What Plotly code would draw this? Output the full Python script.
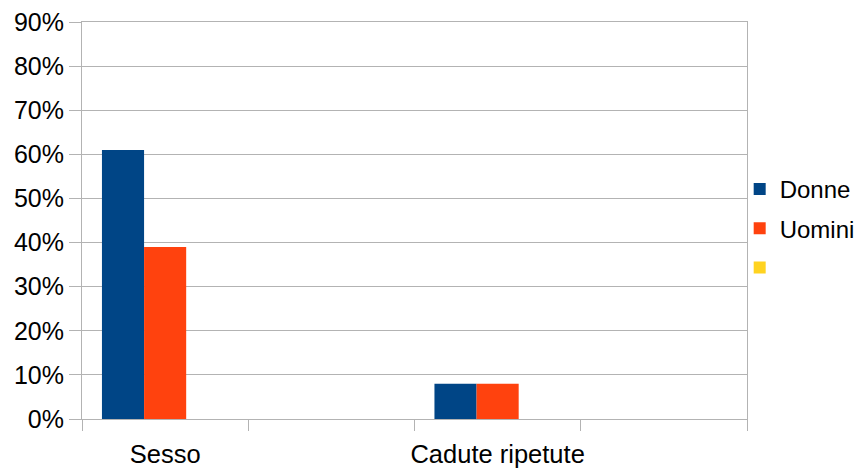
import plotly.graph_objects as go

# Category slots on the x axis (only two of them carry a label)
categories = ["Sesso", "slot2", "Cadute ripetute", "slot4"]
tick_labels = ["Sesso", "", "Cadute ripetute", ""]

# Shares per series (fractions)
donne = [0.61, None, 0.08, None]
uomini = [0.39, None, 0.08, None]
terza = [None, None, None, None]

series = [
    ("Donne", donne, "#004586"),
    ("Uomini", uomini, "#ff420e"),
    ("", terza, "#ffd320"),
]

grid = "#b3b3b3"
family = "Liberation Sans, Arial, sans-serif"
font = dict(family=family, size=24, color="#000000")

fig = go.Figure()
for i, (name, vals, color) in enumerate(series):
    fig.add_trace(go.Bar(
        x=categories, y=vals, name=name, marker=dict(color=color, line=dict(width=0)),
        legendgroup=f"g{i}", showlegend=True,
    ))

fig.update_layout(
    width=860, height=468,
    margin=dict(l=82, r=113, t=22, b=49, autoexpand=False),
    paper_bgcolor="white", plot_bgcolor="white",
    font=font,
    barmode="group", bargap=0.24, bargroupgap=0,
    legend=dict(
        x=0.989, xanchor="left", y=0.48, yanchor="middle",
        traceorder="grouped", tracegroupgap=5,
        font=font, bgcolor="rgba(0,0,0,0)",
    ),
    xaxis=dict(
        type="category", tickmode="array", tickvals=categories, ticktext=tick_labels,
        tickson="boundaries", ticks="outside", ticklen=11, tickcolor=grid,
        tickangle=0, automargin=False, ticklabelstandoff=12,
        tickfont=dict(family=family, size=25.5, color="#000000"),
        showline=True, linecolor=grid, linewidth=1, mirror=True,
        showgrid=False, range=[-0.5, 3.5],
    ),
    yaxis=dict(
        range=[0, 0.9], dtick=0.1, tickformat=".0%",
        ticks="outside", ticklen=12, tickcolor=grid, automargin=False,
        tickfont=dict(family=family, size=25, color="#000000"),
        showgrid=True, gridcolor=grid, gridwidth=1,
        showline=True, linecolor=grid, linewidth=1, mirror=True,
        zeroline=False,
    ),
)

fig.write_html("out.html")
